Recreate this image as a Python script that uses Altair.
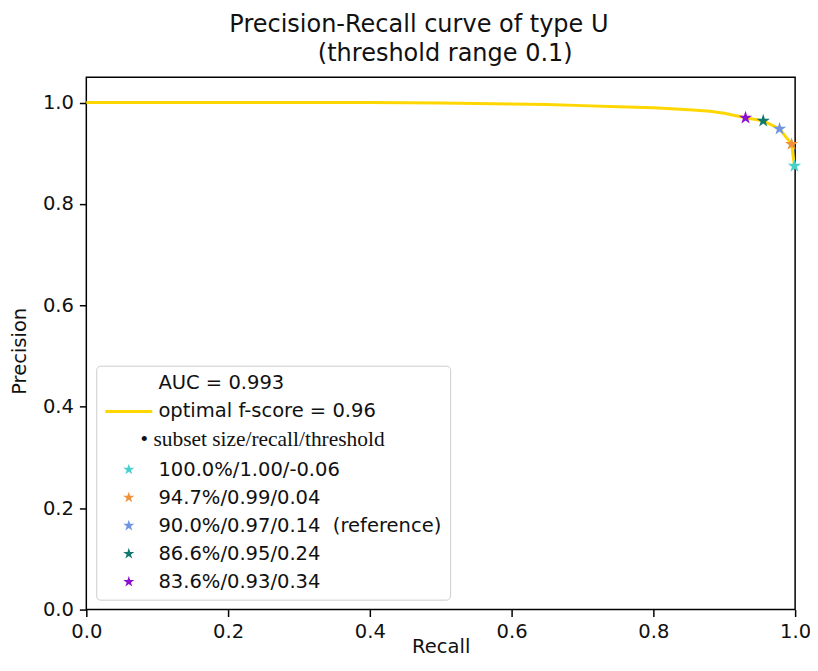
import altair as alt
import pandas as pd

# ---------------- data ----------------
curve_recall = [0.0, 0.1, 0.2, 0.3, 0.4, 0.5, 0.6, 0.65, 0.7, 0.75, 0.8, 0.85, 0.88, 0.9, 0.93, 0.955, 0.978, 0.995, 0.999]
curve_precision = [1.0, 1.0, 1.0, 1.0, 1.0, 0.999, 0.997, 0.996, 0.994, 0.992, 0.99, 0.986, 0.983, 0.979, 0.97, 0.964, 0.948, 0.918, 0.875]

star_labels = ["100.0%/1.00/-0.06", "94.7%/0.99/0.04", "90.0%/0.97/0.14\u00a0\u00a0(reference)",
               "86.6%/0.95/0.24", "83.6%/0.93/0.34"]
star_recall = [0.999, 0.995, 0.978, 0.955, 0.930]
star_precision = [0.875, 0.918, 0.948, 0.964, 0.970]
star_colors = ["#48D1CC", "#F0923A", "#6F94E2", "#13786C", "#8B0FD0"]

auc_label = "AUC = 0.993"
line_label = "optimal f-score = 0.96"
header_label = "• subset size/recall/threshold"
line_color = "#FFD700"

title_lines = ["Precision-Recall curve of type U", "(threshold range 0.1)"]
tick_values = [0.0, 0.2, 0.4, 0.6, 0.8, 1.0]

# ---------------- styles ----------------
STAR = ("M0,-1L0.225,-0.309L0.951,-0.309L0.363,0.118L0.588,0.809L0,0.382"
        "L-0.588,0.809L-0.363,0.118L-0.951,-0.309L-0.225,-0.309Z")
LINE = "M-4,-0.25H4V0.25H-4Z"
FS = 19.7
PAD = "\u2800"  # blank (non-whitespace) glyph used to shift the second title line

curve_df = pd.DataFrame({"recall": curve_recall, "precision": curve_precision})
star_df = pd.DataFrame({"recall": star_recall, "precision": star_precision, "series": star_labels})

legend_domain = [auc_label, line_label, header_label] + star_labels
legend_colors = ["transparent", line_color, "transparent"] + star_colors
legend_shapes = [STAR, LINE, STAR] + [STAR] * len(star_labels)

x_enc = alt.X("recall:Q", title="Recall",
              scale=alt.Scale(domain=[0, 1], nice=False, zero=True),
              axis=alt.Axis(values=tick_values, format=".1f", grid=False, domain=False,
                            tickSize=7, tickWidth=1.5, tickColor="black", labelFlush=False,
                            labelFontSize=FS, labelPadding=5,
                            titleFontSize=FS, titleFontWeight="normal",
                            titleBaseline="alphabetic", titleY=43))
y_enc = alt.Y("precision:Q", title="Precision",
              scale=alt.Scale(domain=[0, 1.05], nice=False, zero=True),
              axis=alt.Axis(values=tick_values, format=".1f", grid=False, domain=False,
                            tickSize=7, tickWidth=1.5, tickColor="black",
                            labelFontSize=FS, labelPadding=6,
                            titleFontSize=FS, titleFontWeight="normal",
                            titleBaseline="middle", titleX=-67, titleY=276))

is_header = f"datum.label == '{header_label}'"
leg = alt.Legend(
    title=None, orient="bottom-left", offset=10,
    padding=8, symbolOffset=15, rowPadding=7.3,
    labelOffset=alt.ExprRef(f"{is_header} ? 2 : 20"),
    symbolSize=140, symbolStrokeWidth=0, symbolOpacity=1,
    labelFontSize=alt.ExprRef(f"{is_header} ? 21.6 : {FS}"),
    labelLimit=600, labelColor="#111",
    labelFont=alt.ExprRef(f"{is_header} ? 'Liberation Serif' : 'DejaVu Sans'"),
    fillColor="white", strokeColor="#cccccc", cornerRadius=4,
)

line = alt.Chart(curve_df).mark_line(color=line_color, strokeWidth=3).encode(x=x_enc, y=y_enc)

points = alt.Chart(star_df).mark_point(filled=True, opacity=1, size=200).encode(
    x=x_enc, y=y_enc,
    color=alt.Color("series:N", scale=alt.Scale(domain=legend_domain, range=legend_colors), legend=leg),
    shape=alt.Shape("series:N", scale=alt.Scale(domain=legend_domain, range=legend_shapes), legend=leg),
)

chart = alt.layer(line, points).properties(
    width=715, height=537,
    autosize=alt.AutoSizeParams(type="none"),
    padding={"left": 79, "top": 67, "right": 15, "bottom": 46},
    title=alt.Title(
        text=[title_lines[0], PAD * 3 + title_lines[1]],
        fontSize=24.2, font="DejaVu Sans", fontWeight="normal", color="#111",
        lineHeight=29.5, anchor="middle", frame="group", offset=11, dx=-22,
    ),
).configure_view(stroke="black", strokeWidth=1.5).configure_axis(
    labelFont="DejaVu Sans", titleFont="DejaVu Sans", labelColor="#111", titleColor="#111"
)

chart.save("out.html", embed_options={"renderer": "svg", "actions": False})
